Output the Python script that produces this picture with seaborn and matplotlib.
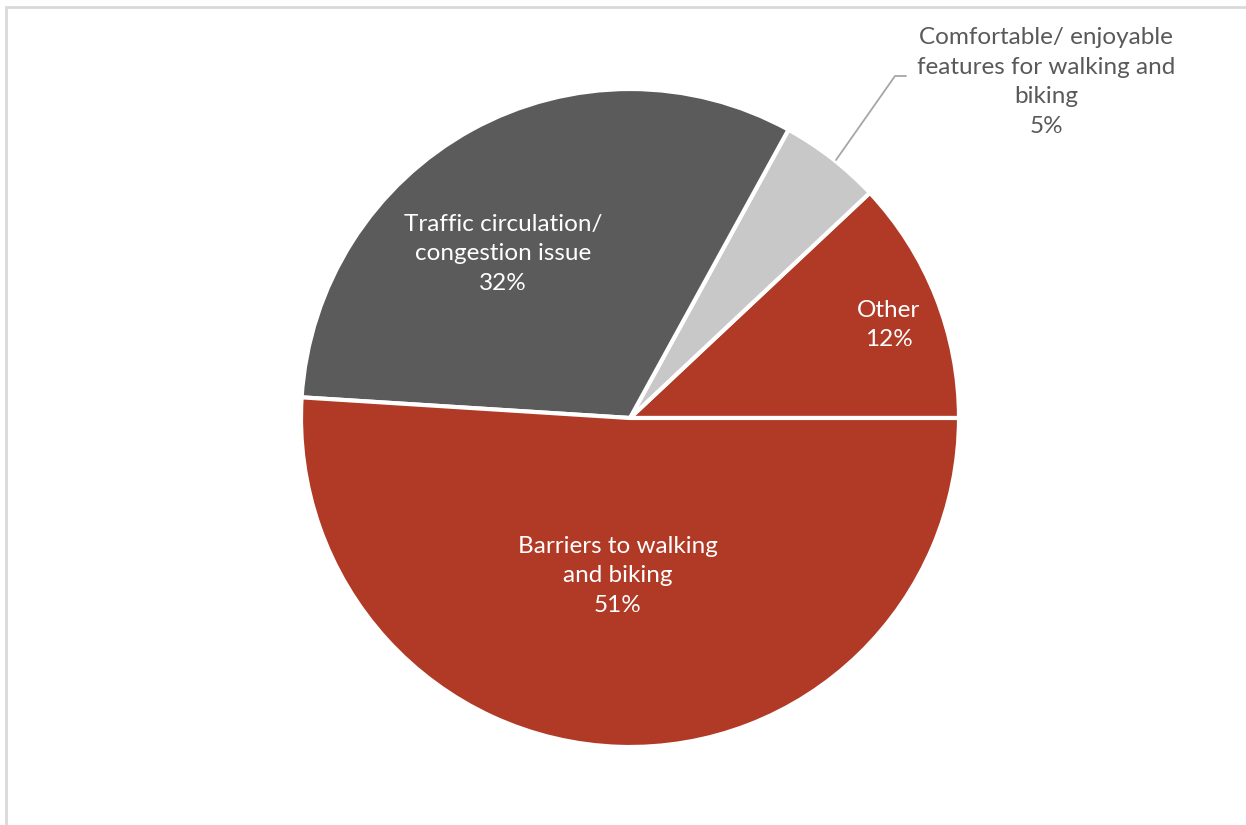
import matplotlib
matplotlib.use('Agg')
import matplotlib.pyplot as plt
import seaborn as sns

# slice data, counterclockwise from 3 o'clock
categories = ['Other', 'Comfortable/ enjoyable\nfeatures for walking and\nbiking',
              'Traffic circulation/\ncongestion issue', 'Barriers to walking\nand biking']
shares = [12, 5, 32, 51]
colors = ['#B03A26', '#C8C8C8', '#5B5B5B', '#B03A26']

sns.set_style('white')
plt.rcParams['font.family'] = ['Lato', 'DejaVu Sans']

fig = plt.figure(figsize=(12.46, 8.25), dpi=100)
ax = fig.add_axes([0, 0, 1, 1])

wedges, _ = ax.pie(shares, colors=colors, startangle=0, counterclock=True,
                   center=(630, 407), radius=329,
                   wedgeprops=dict(edgecolor='white', linewidth=3))

# pie resets the limits, so set them afterwards
ax.set_xlim(0, 1246)
ax.set_ylim(0, 825)
ax.set_aspect('equal')
ax.axis('off')

# chart area frame (partly outside the picture)
ax.add_patch(plt.Rectangle((6, -20), 1300, 825 - 7 + 20, fill=False,
                           edgecolor='#D9D9D9', linewidth=2))

def lab(i):
    return f'{categories[i]}\n{shares[i]}%'

fs = 17.5
ax.text(889, 825 - 325, lab(0), ha='center', va='center', color='white',
        fontsize=fs, linespacing=1.5)
ax.text(503, 825 - 254, lab(2), ha='center', va='center', color='white',
        fontsize=fs, linespacing=1.5)
ax.text(618, 825 - 576, lab(3), ha='center', va='center', color='white',
        fontsize=fs, linespacing=1.5)
ax.text(1046, 825 - 82, lab(1), ha='center', va='center', color='#595959',
        fontsize=fs, linespacing=1.5)

# leader line for the small slice
ax.plot([836, 895, 906], [825 - 160, 825 - 76, 825 - 76], color='#A6A6A6', lw=1.3)

fig.savefig('out.png', dpi=100)
